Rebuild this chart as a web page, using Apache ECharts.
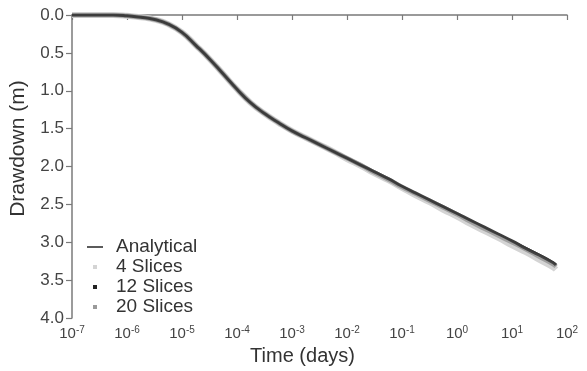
<!DOCTYPE html>
<html>
<head>
    <meta charset="UTF-8">
    <title>Drawdown vs time</title>
    <script src="https://cdn.jsdelivr.net/npm/echarts@6/dist/echarts.min.js"></script>
</head>
<body style="margin:0;background:#fff">
<div id="chart" style="width:587px;height:371px"></div>
<script type="text/javascript">
    // time exponents (log10 days)
    var logTimes = [-7, -6.75, -6.5, -6.25, -6, -5.75, -5.5, -5.25, -5, -4.75, -4.5, -4.25, -4, -3.75,
        -3.5, -3.25, -3, -2.75, -2.5, -2.25, -2, -1.75, -1.5, -1.25, -1, -0.75, -0.5, -0.25, 0,
        0.25, 0.5, 0.75, 1, 1.25, 1.5, 1.75, 1.8];
    var analytical = [0.00, 0.00, 0.00, 0.00, 0.01, 0.03, 0.06, 0.12, 0.23, 0.40, 0.58, 0.78, 0.98, 1.16,
        1.30, 1.42, 1.53, 1.62, 1.71, 1.80, 1.89, 1.98, 2.07, 2.16, 2.26, 2.35, 2.44, 2.53, 2.62,
        2.71, 2.80, 2.89, 2.98, 3.07, 3.16, 3.26, 3.29];
    var slices4 = [0.00, 0.00, 0.00, 0.00, 0.01, 0.03, 0.06, 0.12, 0.23, 0.40, 0.58, 0.78, 0.98, 1.16,
        1.30, 1.42, 1.53, 1.62, 1.71, 1.80, 1.90, 1.99, 2.09, 2.18, 2.28, 2.38, 2.47, 2.57, 2.66,
        2.76, 2.85, 2.94, 3.04, 3.13, 3.23, 3.33, 3.36];
    var slices12 = [0.00, 0.00, 0.00, 0.00, 0.01, 0.03, 0.06, 0.12, 0.23, 0.40, 0.58, 0.78, 0.98, 1.16,
        1.30, 1.42, 1.53, 1.62, 1.71, 1.80, 1.89, 1.98, 2.07, 2.16, 2.26, 2.35, 2.44, 2.53, 2.62,
        2.71, 2.80, 2.89, 2.98, 3.08, 3.17, 3.27, 3.30];
    var slices20 = [0.00, 0.00, 0.00, 0.00, 0.01, 0.03, 0.06, 0.12, 0.23, 0.40, 0.58, 0.78, 0.98, 1.16,
        1.30, 1.42, 1.53, 1.62, 1.71, 1.80, 1.89, 1.98, 2.08, 2.17, 2.27, 2.36, 2.45, 2.54, 2.63,
        2.73, 2.82, 2.91, 3.00, 3.09, 3.19, 3.29, 3.32];
    var yTicks = [0, 0.5, 1, 1.5, 2, 2.5, 3, 3.5, 4];

    function pairs(vals) {
        return logTimes.map(function (e, i) {
            return [Math.pow(10, e), vals[i]];
        });
    }

    var font = 'Liberation Sans, Arial, sans-serif';
    var squareIcon = 'path://M0,0 M16,10 M6,3 L10,3 L10,7 L6,7 Z';
    var chart = echarts.init(document.getElementById('chart'));
    chart.setOption({
        animation: false,
        backgroundColor: '#fff',
        grid: {left: 71, right: 20, top: 15, bottom: 48},
        legend: {
            orient: 'vertical',
            left: 82,
            top: 232,
            itemGap: 0,
            itemWidth: 16,
            itemHeight: 10,
            textStyle: {fontFamily: font, fontSize: 19, color: '#333', lineHeight: 20, padding: [0, 0, 0, 8]},
            data: [
                {name: 'Analytical', icon: 'path://M0,0 M16,10 M0,4.2 L16,4.2 L16,5.8 L0,5.8 Z', itemStyle: {color: '#333'}},
                {name: '4 Slices', icon: squareIcon},
                {name: '12 Slices', icon: squareIcon},
                {name: '20 Slices', icon: squareIcon}
            ]
        },
        xAxis: {
            type: 'log',
            logBase: 10,
            min: 1e-7,
            max: 1e2,
            name: 'Time (days)',
            nameLocation: 'middle',
            nameGap: 27,
            nameTextStyle: {fontFamily: font, fontSize: 20, color: '#333', padding: [0, 34, 0, 0]},
            splitLine: {show: false},
            axisLine: {lineStyle: {color: '#7a7a7a', width: 1.5}},
            axisTick: {lineStyle: {color: '#7a7a7a', width: 1.2}, length: 5},
            axisLabel: {
                margin: 7,
                formatter: function (v) {
                    return '{b|10}{s|' + Math.round(Math.log10(v)) + '}';
                },
                rich: {
                    b: {fontFamily: font, fontSize: 15, color: '#444'},
                    s: {fontFamily: font, fontSize: 10, color: '#444', padding: [0, 0, 7, 0]}
                }
            }
        },
        yAxis: {
            type: 'value',
            inverse: true,
            min: 0,
            max: 4,
            interval: 0.5,
            name: 'Drawdown (m)',
            nameLocation: 'middle',
            nameGap: 43,
            nameTextStyle: {fontFamily: font, fontSize: 21, color: '#333', padding: [0, 0, 0, 36]},
            splitLine: {show: false},
            axisLine: {show: true, lineStyle: {color: '#7a7a7a', width: 1.5}},
            axisTick: {show: true, lineStyle: {color: '#7a7a7a', width: 1.2}, length: 6},
            axisLabel: {
                fontFamily: font, fontSize: 17, color: '#444', margin: 8,
                formatter: function (v) {
                    return yTicks.indexOf(v) >= 0 ? v.toFixed(1) : '';
                }
            }
        },
        series: [
            {
                name: '4 Slices', type: 'line', data: pairs(slices4), showSymbol: false, smooth: 0.5,
                itemStyle: {color: '#d4d4d4'},
                lineStyle: {color: '#d4d4d4', width: 6}
            },
            {
                name: '20 Slices', type: 'line', data: pairs(slices20), showSymbol: false, smooth: 0.5,
                itemStyle: {color: '#9a9a9a'},
                lineStyle: {color: '#a0a0a0', width: 4.5}
            },
            {
                name: '12 Slices', type: 'line', data: pairs(slices12), showSymbol: false, smooth: 0.5,
                itemStyle: {color: '#222'},
                lineStyle: {color: '#444', width: 3}
            },
            {
                name: 'Analytical', type: 'line', data: pairs(analytical), showSymbol: false, smooth: 0.5,
                itemStyle: {color: '#333'},
                lineStyle: {color: '#3a3a3a', width: 1.5}
            }
        ]
    });
</script>
</body>
</html>
